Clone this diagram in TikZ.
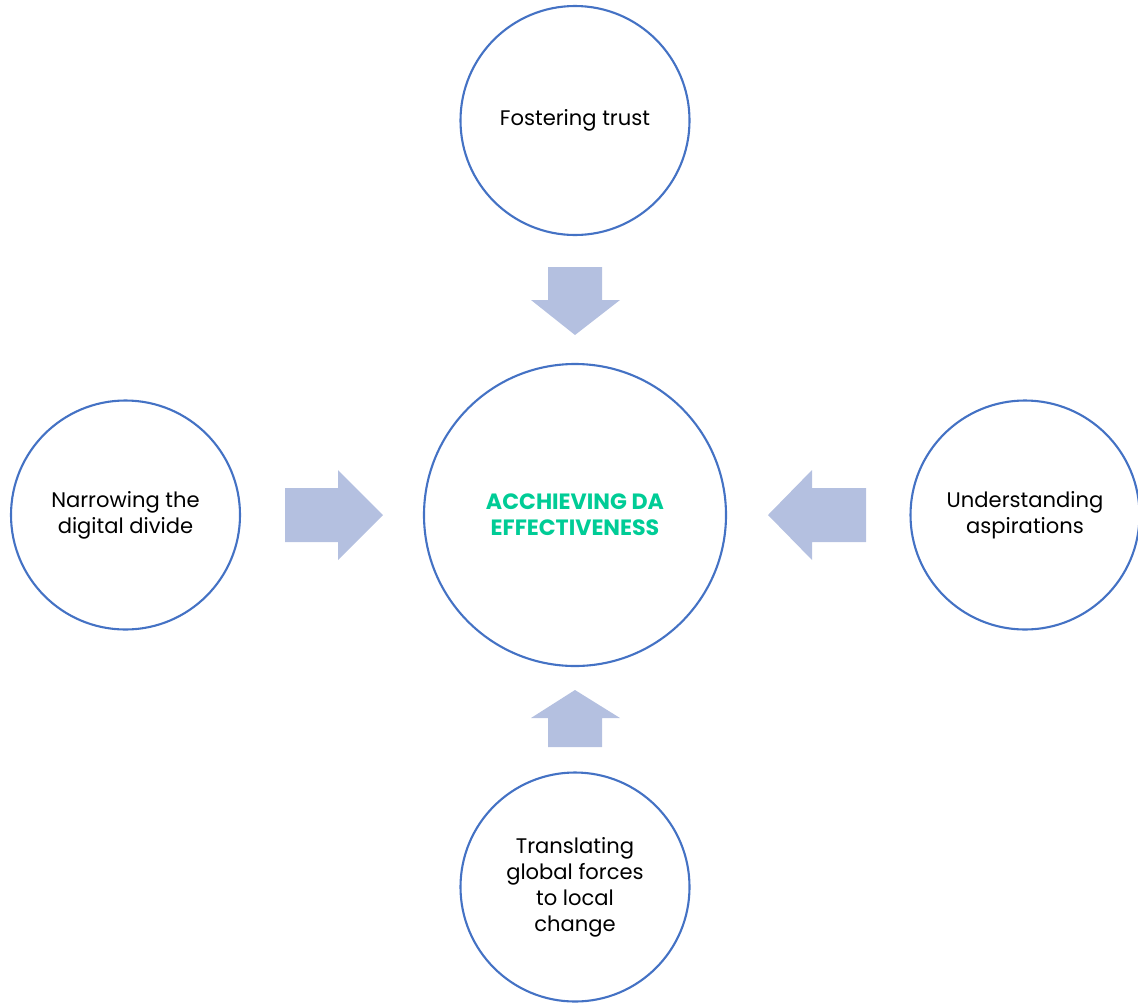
\documentclass[tikz,border=0pt]{standalone}
\usepackage{fontspec}
\setmainfont{Poppins}
\usetikzlibrary{positioning}
\definecolor{ringblue}{RGB}{68,114,196}
\definecolor{arrowfill}{RGB}{180,192,224}
\definecolor{goalgreen}{RGB}{0,204,150}
\tikzset{
	ring/.style={draw=ringblue,line width=1.2pt,circle,inner sep=0pt,align=center,font=\fontsize{12}{14.8}\selectfont},
	small/.style={ring,minimum size=4.58cm},
	big/.style={ring,minimum size=6.04cm},
	blockarrow/.style={fill=arrowfill,draw=none}
}

\begin{document}
\begin{tikzpicture}
            \useasboundingbox (0,0) rectangle (22.76,-20.06);
            \node[big,text=goalgreen,font=\bfseries\fontsize{12.6}{14.8}\selectfont] (goal) at (11.5,-10.3) {ACCHIEVING DA\\EFFECTIVENESS};
            \node[small] (trust) at (11.5,-2.41) {Fostering trust};
            \node[small] (divide) at (2.51,-10.3) {Narrowing the\\digital divide};
            \node[small] (aspire) at (20.5,-10.3) {Understanding\\aspirations};
            \node[small] (forces) at (11.5,-17.74) {Translating\\global forces\\to local\\change};
            % arrows pointing into the goal
            \fill[blockarrow] (10.96,-5.34) -- (12.04,-5.34) -- (12.04,-6.0) -- (12.4,-6.0) -- (11.5,-6.7) -- (10.62,-6.0) -- (10.96,-6.0) -- cycle;
            \fill[blockarrow] (10.96,-14.94) -- (12.04,-14.94) -- (12.04,-14.36) -- (12.4,-14.36) -- (11.5,-13.8) -- (10.62,-14.36) -- (10.96,-14.36) -- cycle;
            \fill[blockarrow] (5.7,-9.76) -- (6.76,-9.76) -- (6.76,-9.4) -- (7.66,-10.3) -- (6.76,-11.2) -- (6.76,-10.84) -- (5.7,-10.84) -- cycle;
            \fill[blockarrow] (17.32,-9.76) -- (16.24,-9.76) -- (16.24,-9.4) -- (15.36,-10.3) -- (16.24,-11.2) -- (16.24,-10.84) -- (17.32,-10.84) -- cycle;
        \end{tikzpicture}
\end{document}
